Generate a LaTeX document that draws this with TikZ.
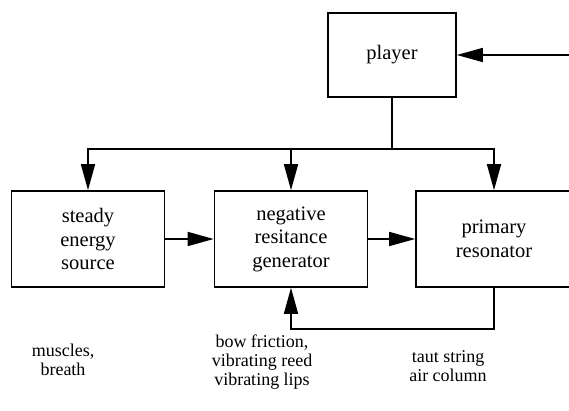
\documentclass[tikz,border=0pt]{standalone}
\usepackage{fontspec}
\setmainfont{Liberation Serif}
\usetikzlibrary{arrows.meta}
\begin{document}
\begin{tikzpicture}[x=1pt,y=1pt,
    block/.style={draw,line width=1.6pt,minimum width=153pt,minimum height=96pt,
      align=center,font=\fontsize{20.5}{23.5}\selectfont},
    note/.style={align=center,font=\fontsize{18}{19}\selectfont},
    link/.style={line width=1.6pt,-{Triangle[length=26pt,width=14pt]}}]
  \clip (0,0) rectangle (569,411);
  % boxes
  \node[block,minimum width=128pt,minimum height=84pt] (player) at (392,356) {player};
  \node[block] (steady) at (88,172) {steady\\energy\\source};
  \node[block] (negative) at (291,172) {negative\\resitance\\generator};
  \node[block,minimum width=156pt] (primary) at (494,172) {primary\\resonator};
  % examples below
  \node[note] (muscles) at (63,51) {muscles,\\breath};
  \node[note] (bow) at (262,49) {bow friction,\\vibrating reed\\vibrating lips};
  \node[note] (string) at (448,45) {taut string\\air column};
  % player control
  \coordinate (input) at (575,356);
  \coordinate (bus) at (392,262);
  \draw[link] (input) -- (player.east);
  \draw[line width=1.6pt] (player.south) -- (bus);
  \draw[link] (bus) -| (steady.north);
  \draw[link] (bus) -| (negative.north);
  \draw[link] (bus) -| (primary.north);
  % signal path
  \draw[link] (steady) -- (negative);
  \draw[link] (negative) -- (primary);
  \coordinate (loop) at (0,82);
  \draw[link] (primary.south) -- (primary.south |- loop) -| (negative.south);
\end{tikzpicture}
\end{document}
